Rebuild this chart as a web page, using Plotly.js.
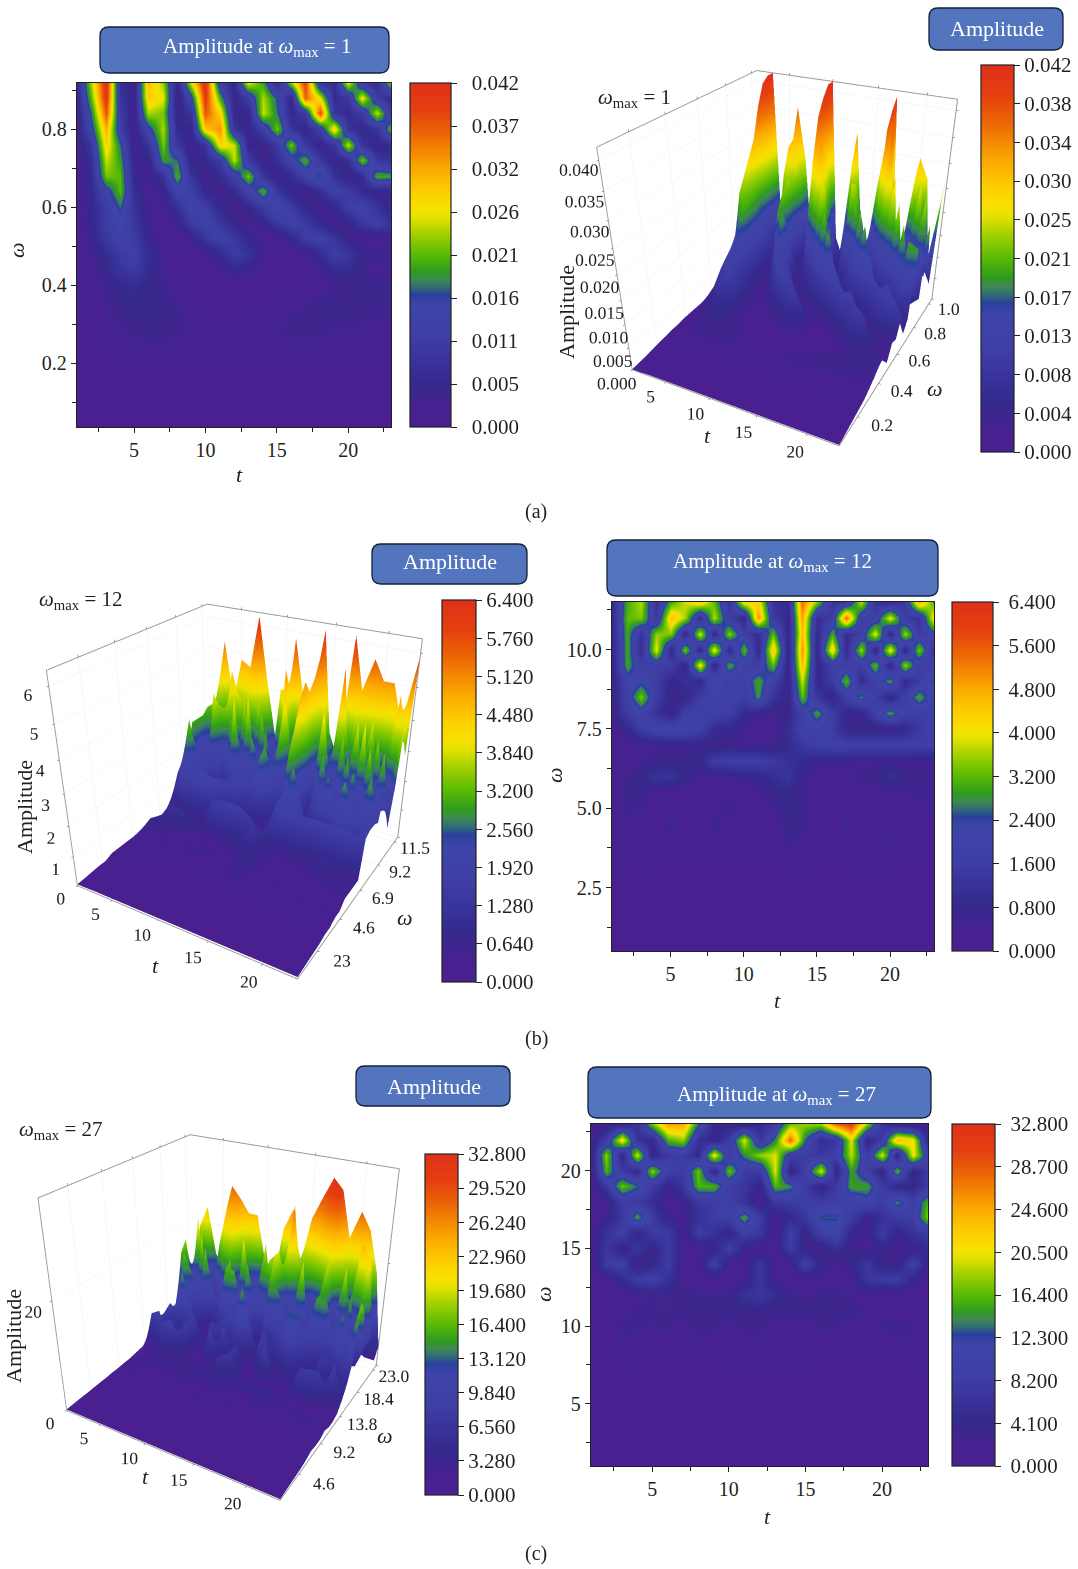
<!DOCTYPE html>
<html><head><meta charset="utf-8">
<script src="https://cdn.plot.ly/plotly-3.0.1.min.js"></script>
<style>html,body{margin:0;padding:0;background:#fff}</style></head>
<body><div id="chart" style="width:1078px;height:1569px"></div>
<script>
const tValues=[1,2,3,4,5,6,7,8,9,10,11,12,13,14,15,16,17,18,19,20,21,22,23];
const omegaA=[.04,.08,.12,.16,.2,.24,.28,.32,.36,.4,.44,.48,.52,.56,.6,.64,.68,.72,.76,.8,.84,.88,.92];
const omegaB=[.5,1,1.5,2,2.5,3,3.5,4,4.5,5,5.5,6,6.5,7,7.5,8,8.5,9,9.5,10,10.5,11,11.5];
const omegaC=[1,2,3,4,5,6,7,8,9,10,11,12,13,14,15,16,17,18,19,20,21,22,23];
// amplitude in thousandths, lowest omega first
const milliA=[
[.1,.1,.2,.2,.2,.2,.2,.2,.2,.2,.2,.2,.2,.2,.2,.2,.2,.2,.2,.2,.2,.2,.2],
[.2,.3,.4,.4,.4,.4,.4,.4,.4,.5,.5,.4,.4,.4,.4,.4,.5,.5,.4,.4,.4,.4,.4],
[.3,.5,.6,.7,.7,.7,.7,.7,.7,.8,.8,.8,.7,.7,.7,.8,.8,.8,.7,.7,.7,.7,.7],
[.5,.8,1,1.2,1.2,1.2,1.2,1.2,1.2,1.2,1.2,1.2,1.2,1.2,1.3,1.3,1.2,1.2,1.1,1.1,1.1,1.1,1],
[.7,1,1.5,1.8,2,2,2,2,2,1.9,1.8,1.8,1.8,1.8,1.9,1.9,1.9,1.8,1.6,1.5,1.4,1.3,1.3],
[.8,1.2,2,2.6,3,3,3,3,2.8,2.5,2.3,2.2,2.4,2.6,2.8,2.9,3,2.8,2.5,2.3,2,1.8,1.6],
[1,1.5,2.5,3.3,3.8,4,4,3.6,3,2.4,2,2,2.6,3.2,3.6,3.8,3.8,3.6,3.4,3.2,3,2.6,2.4],
[1,1.8,3,4,4.6,4.8,4.4,3.8,2.8,2,1.6,1.6,1.8,2.4,3,3.6,4,4.2,4.2,4,3.8,3.5,3.2],
[1.2,2,3.2,4.6,5.5,5,4.4,3.4,2.2,1.3,1,1,1.2,1.4,1.6,2.2,3,3.8,4.2,4.4,4.4,4.4,4.2],
[1.2,2.2,4,5.5,6.5,5,3.6,2.4,1.4,1,1,1,1,1.2,1.3,1.4,1.8,2.4,3.2,3.8,4.4,4.6,4.6],
[1.2,2.4,5,8.5,10,6,3,1.6,1.2,1.5,3,5.5,4,1.6,1,1,1.5,3.5,6,6.5,4,2.4,2],
[1.2,3,6.5,10,11.5,7,3,1.4,1,2,6,10.5,8,3,1.2,1,2.4,6,11,9,5,4,5],
[1.5,4.5,9,12.5,10,5,2,1.2,3.5,9,12,9,5,2,1.5,5,11,12,8,4,2.4,2,4.5],
[1.6,5,10.5,14,9,4,2,4,10,13,9,5,2.5,4.5,9,12,10,5,2.5,4,9,12,8],
[1.8,5,11,17,8,3,3,7,13,11,5,2.5,5,10,15,10,5,2.4,5,11,13,8,3],
[2,5.5,14,21,7,2.5,4,13,12,5,3,6,12,20,9,4,3,7,12,10,6,4,5],
[2,6,22,21,5,3,8,20,8,3,6,12,22,8,3,6,12,17,8,3,6,20,19],
[2.5,7,25,19,4,4,19,17,4,5,10,25,10,3,7,13,20,9,4,7,22,9,7],
[3,9,28,17,3,8,22,9,3,8,28,25,5,4,9,22,9,4,8,25,8,4,6],
[3,14,31,11,3,14,24,6,5,29,33,8,4,11,22,8,4,11,29,8,5,8,21],
[4,17,37,10,3,24,22,4,8,37,28,5,5,25,17,5,10,38,9,6,10,25,9],
[5,21,41,8,4,29,26,3,14,40,20,4,10,24,16,4,36,26,6,9,27,10,6],
[6,24,42,7,4,30,23,4,26,42,10,5,27,19,5,24,39,8,6,27,9,6,24]];
const ampB=[
[.05,.05,.06,.06,.06,.06,.06,.06,.06,.06,.06,.06,.06,.06,.06,.06,.06,.06,.06,.06,.06,.06,.06],
[.06,.08,.08,.08,.08,.08,.08,.08,.08,.08,.08,.08,.08,.08,.08,.08,.08,.08,.08,.08,.08,.08,.08],
[.08,.1,.1,.1,.1,.1,.1,.1,.1,.1,.1,.1,.1,.1,.1,.1,.1,.1,.1,.1,.1,.1,.1],
[.1,.12,.12,.12,.12,.12,.12,.12,.12,.12,.12,.12,.12,.12,.12,.12,.12,.12,.12,.12,.12,.12,.12],
[.1,.14,.16,.15,.14,.14,.15,.15,.14,.14,.15,.15,.16,.16,.15,.15,.14,.15,.15,.14,.15,.14,.14],
[.2,.2,.3,.2,.2,.2,.2,.2,.2,.2,.2,.2,.2,.3,.2,.2,.2,.3,.2,.4,.2,.2,.2],
[.2,.3,.3,.4,.2,.3,.2,.2,.2,.3,.2,.2,.3,.3,.2,.3,.2,.3,.2,.2,.3,.2,.2],
[.2,.5,.3,.2,.2,.2,.3,.2,.6,.2,.2,.4,.6,.5,.2,.2,.2,.2,.5,.6,.2,.5,.3],
[.2,.5,.3,.2,.7,.3,.2,.7,.3,.2,.3,.2,.7,.6,.3,.2,.6,.2,.2,.2,.2,.3,.3],
[.2,.6,.5,.3,.2,.4,.5,.4,.7,.3,.2,.5,.8,.7,.3,.5,.3,.3,.2,.4,.2,.4,.5],
[.2,.7,.7,.4,.3,.2,.2,.2,.3,.4,.5,.7,.8,.6,.4,.3,.2,.2,.3,.4,.5,.6,.5],
[.2,.6,.8,1.2,1.2,.8,.4,.4,.5,.6,.7,1,1.3,.6,.4,.4,.4,.6,.7,1.1,.7,.6,.5],
[.2,.3,.5,.6,.7,.7,.8,1.6,1.7,1.7,1.7,1.5,1.1,.9,.6,.6,.6,.5,.5,.5,.5,.5,.5],
[.2,.3,.4,.5,.6,.6,.6,.6,.6,.5,.5,.5,.9,1.4,1.7,1.8,1.8,1.8,1.8,1.8,1.8,1.7,1.7],
[.3,.8,1.6,2,2.1,2.1,1.8,.9,.7,.5,.3,.4,1,1.9,1.9,1.6,.8,.6,.6,.6,.8,1.5,1.8],
[.5,1.6,2,1.2,.6,1.8,1.8,1.8,1.7,.9,.6,.5,.7,1.8,2.9,1.6,.7,.6,1.8,2.9,1.8,1.6,1.8],
[.5,1.9,3.4,1.6,.6,.7,1.6,1.8,1.8,1.6,2.8,1.2,.6,3.2,1.3,.6,1.7,2.7,1.7,.6,1.8,3,1.7],
[.6,2,2.2,1.7,.7,1.2,.7,2.4,1.6,1.9,3,1.7,.6,3.8,.7,1.5,3.2,.9,1.8,2.9,.8,1.6,2.6],
[.6,3,1.7,1.7,1.7,.6,4.2,.6,3,1.8,1.7,3.2,.6,4.6,.7,1.7,1.8,1.6,3.2,.6,3.6,1.6,1.8],
[.7,3,1,4,.7,3.4,.6,4.2,.7,3.2,.8,4.5,.6,5,.7,4.4,.8,3.6,.6,4.2,.6,3.4,1],
[.8,3,1.2,3.5,3.4,.7,3.9,.7,3.5,1.7,1,3.2,.6,4.6,.8,3,1,1.7,4,.6,3.6,1.6,2.2],
[.9,3.2,3.4,1.4,4.6,3.6,.9,3.7,1.7,.8,5,1.6,.7,4.9,1,1.6,5.4,1.7,1.8,4,1.6,1.2,4.3],
[.8,3,3.7,1.2,3,3.8,4.4,3.2,1.2,4.2,4.3,1.2,.9,5.4,3.4,1.2,1.4,3.8,1.2,.9,1.4,4.8,3]];
const ampC=[
[.2,.2,.2,.2,.2,.2,.2,.2,.2,.2,.2,.2,.2,.2,.2,.2,.2,.2,.2,.2,.2,.2,.2],
[.25,.3,.3,.3,.3,.3,.3,.3,.3,.3,.3,.3,.3,.3,.3,.3,.3,.3,.3,.3,.3,.3,.3],
[.3,.35,.35,.4,.4,.4,.4,.4,.4,.4,.4,.4,.4,.4,.4,.4,.4,.4,.4,.4,.4,.4,.4],
[.3,.4,.45,.45,.45,.45,.5,.5,.5,.5,.5,.5,.5,.5,.5,.5,.5,.5,.5,.5,.45,.45,.45],
[.35,.5,.55,.55,.55,.55,.6,.6,.6,.6,.6,.6,.6,.65,.65,.6,.6,.6,.6,.55,.55,.55,.55],
[.4,.6,.7,.7,.7,.8,.8,.7,.7,.8,.8,.8,.8,.9,.8,.7,.7,.7,.7,.7,.7,.7,.8],
[.4,.8,1,1,1,.8,.8,1,1,1,1,1.5,1,1,1,1,.8,.8,.8,1,1,1,1.2],
[.5,1,2,3,1,1,1.5,1.5,1,2,2.5,1,1,2,2,1,1,1,2.5,1,1,1,1],
[.5,1.5,2.5,1.5,2,1.5,2,2.5,1.5,1,2,2.5,1.5,3,1.5,2,1.5,1,2,1.5,2.5,2,1],
[.6,2,3,3,2.5,3,2,3,3,2,3,3,2,1,1,3,3,1.5,2,3,3,3,1.5],
[.6,1,2,3,3,3,3,3.5,3.5,3.5,3.5,3.5,3.5,3.5,3.5,3.5,3.5,3.5,2.5,2,1.5,1,1],
[.8,1,1.2,2,3,3,3.5,3,3,3,6,7,5,3,2.5,3,3,2.5,1.5,1,1,1,1],
[1,1.5,5,8,9,6,2,1.5,1.5,1.5,2,7,2,2,2,2,2,2,7,8,8,4,1.5],
[1,8,9,2,4,8,2,2,9,2,2,7,1.5,2,9,4,1.5,4,7,3,3,9,3],
[1,7,3,7,3,8,2,2,3,9,3,2,2,8,3,2,6,3,2,4,2,3,5],
[1,6,9,3,8,8,2,8,6,3,9,7,1.5,9,3,9,10,4,2,8,3,6,8],
[1.5,3,7,15,8,3,2,6,8,9,15,8,1.5,4,7,13,13,8,3,6,8,9,18],
[1.5,2,8,8,5,1.5,3,7,8,9,6,1.5,7,8,9,8,9,9,11,8,14,9,16],
[1.5,7,17,13,8,3,7,16,16,8,7,3,16,14,8,3,8,15,15,8,4,4,8],
[2,16,8,4,18,9,8,17,3,17,8,8,20,3,9,20,3,15,9,3,16,3,8],
[3,18,3,20,3,8,8,4,21,8,14,18,20,9,8,7,9,19,8,20,3,21,9],
[2,8,22,6,4,16,18,6,3,8,20,7,14,28,13,5,7,20,3,8,24,21,3],
[2,3,4,6,17,25,25,13,4,3,3,4,8,17,18,18,28,31,18,6,3,2,2]];
// rows the surfaces show behind the edge of the contour maps
const topRowA=[8,18,42,5,6,36,25,4,14,42,9,4,33,12,4,18,41,6,6,30,26,8,30];
const topRowB=[1.2,3.4,5.3,3.4,4.8,4.6,6.3,4.2,2.4,1.8,5.8,4,3.4,6.2,3,2.2,6.2,4.6,5.6,5,5,3.8,5.9];
const topRowC=[4,19,23,14,11,28,26,23.5,23.5,15,11,22,26,16,25,29,32.8,31,23,28,25,18,4];
const zA=milliA.map(r=>r.map(v=>v/1000));
const cbHeatA=[0,.00525,.0105,.01575,.021,.02625,.0315,.03675,.042];
const cbHeatAText=['0.000','0.005','0.011','0.016','0.021','0.026','0.032','0.037','0.042'];
const cbSurfA=[0,.0042,.0084,.0126,.0168,.021,.0252,.0294,.0336,.0378,.042];
const cbSurfAText=['0.000','0.004','0.008','0.013','0.017','0.021','0.025','0.030','0.034','0.038','0.042'];
const cbSurfB=[0,.64,1.28,1.92,2.56,3.2,3.84,4.48,5.12,5.76,6.4];
const cbSurfBText=cbSurfB.map(v=>v.toFixed(3));
const cbHeatB=[0,.8,1.6,2.4,3.2,4,4.8,5.6,6.4];
const cbHeatBText=cbHeatB.map(v=>v.toFixed(3));
const cbSurfC=[0,3.28,6.56,9.84,13.12,16.4,19.68,22.96,26.24,29.52,32.8];
const cbSurfCText=cbSurfC.map(v=>v.toFixed(3));
const cbHeatC=[0,4.1,8.2,12.3,16.4,20.5,24.6,28.7,32.8];
const cbHeatCText=cbHeatC.map(v=>v.toFixed(3));
const tTicks=[5,10,15,20];
const palette=[[0,'#4a2090'],[.06,'#472190'],[.13,'#35298c'],[.2,'#39349c'],[.26,'#3e3ea4'],[.35,'#3f44a9'],[.372,'#3443a3'],[.385,'#2a3f9b'],[.405,'#2f6a78'],[.43,'#3f8a50'],[.45,'#2e9a20'],[.5,'#58ba05'],[.56,'#a0d000'],[.61,'#e6e200'],[.635,'#f6e000'],[.68,'#fdd000'],[.75,'#fbaa00'],[.85,'#ec6705'],[.92,'#e4400f'],[1,'#e0301a']];

const W=1078,H=1569,FONT='"Liberation Serif", serif',INK='#231f20';
const px=x=>x/W, py=y=>1-y/H;
const traces=[],layout={width:W,height:H,margin:{l:0,r:0,t:0,b:0},paper_bgcolor:'#fff',plot_bgcolor:'#fff',autosize:false,font:{family:FONT,color:INK,size:18},showlegend:false,shapes:[],annotations:[]};

function colorbar(x0,x1,y0,y1,vals,text,gap){
  return {x:px(x0),xanchor:'left',xpad:0,ypad:0,y:py(y1),yanchor:'bottom',len:(y1-y0)/H,lenmode:'fraction',thickness:x1-x0,thicknessmode:'pixels',
    tickmode:'array',tickvals:vals,ticktext:text.map(s=>gap+s),ticks:'outside',ticklen:6,tickwidth:1,tickcolor:'#222',outlinecolor:'#222',outlinewidth:1.2,tickfont:{family:FONT,size:21,color:INK}};
}
function box(x0,y0,x1,y1){
  const r=9,X=v=>px(v).toFixed(5),Y=v=>py(v).toFixed(5);
  layout.shapes.push({type:'path',xref:'paper',yref:'paper',fillcolor:'#5375bd',line:{color:'#14203a',width:1.3},
    path:`M ${X(x0+r)} ${Y(y0)} L ${X(x1-r)} ${Y(y0)} Q ${X(x1)} ${Y(y0)} ${X(x1)} ${Y(y0+r)} L ${X(x1)} ${Y(y1-r)} Q ${X(x1)} ${Y(y1)} ${X(x1-r)} ${Y(y1)} L ${X(x0+r)} ${Y(y1)} Q ${X(x0)} ${Y(y1)} ${X(x0)} ${Y(y1-r)} L ${X(x0)} ${Y(y0+r)} Q ${X(x0)} ${Y(y0)} ${X(x0+r)} ${Y(y0)} Z`});
}
function note(x,y,text,size,color,angle){
  layout.annotations.push({xref:'paper',yref:'paper',x:px(x),y:py(y),text,showarrow:false,xanchor:'center',yanchor:'middle',font:{family:FONT,size:size||20,color:color||INK},textangle:angle||0});
}
function heat(id,z,om,frame,cb,vals,text,gap,yDtick,yMinor,yFmt,yRange,xTitle,yTitle){
  const [x0,x1,y0,y1]=frame,s=id===1?'':id;
  traces.push({type:'heatmap',x:tValues,y:om,z,zsmooth:'best',colorscale:palette,zmin:0,zmax:vals[vals.length-1],xaxis:'x'+s,yaxis:'y'+s,
    colorbar:colorbar(cb[0],cb[1],y0,y1,vals,text,gap),hoverinfo:'skip'});
  const base={showline:true,mirror:true,linecolor:'#222',linewidth:1.4,ticks:'outside',ticklen:5,tickwidth:1,tickcolor:'#222',showgrid:false,zeroline:false,tickfont:{family:FONT,size:20,color:INK},layer:'above traces'};
  layout['xaxis'+s]=Object.assign({},base,{domain:[px(x0),px(x1)],range:[1,23],anchor:'y'+s,tickmode:'array',tickvals:tTicks,minor:{tickmode:'array',tickvals:[2.5,7.5,12.5,17.5,22.5],ticks:'outside',ticklen:4,tickcolor:'#222',showgrid:false}});
  layout['yaxis'+s]=Object.assign({},base,{domain:[py(y1),py(y0)],range:yRange,anchor:'x'+s,dtick:yDtick,tick0:0,tickformat:yFmt,minor:{dtick:yMinor,tick0:0,ticks:'outside',ticklen:4,tickcolor:'#222',showgrid:false}});
  note(xTitle[0],xTitle[1],'<i>t</i>',22);
  note(yTitle[0],yTitle[1],'<i>ω</i>',22,INK,-90);
}
function surf(sid,z,om,dom,cb,vals,text,zMax,zTicks,zFmt,omTicks,omText,center,aspect,eye){
  traces.push({type:'surface',x:tValues,y:om,z,scene:sid,colorscale:palette,cmin:0,cmax:vals[vals.length-1],
    lighting:{ambient:1,diffuse:0,specular:0,roughness:1,fresnel:0},hoverinfo:'skip',
    colorbar:colorbar(cb[0],cb[1],cb[2],cb[3],vals,text,'')});
  const ax={showbackground:false,showspikes:false,showgrid:true,gridcolor:'#f0f0f0',gridwidth:1,zeroline:false,showline:true,linecolor:'#9a9a9a',linewidth:2,mirror:'all',
    ticks:'outside',ticklen:2,tickcolor:'#444',tickangle:0,tickfont:{family:FONT,size:14.5,color:INK},title:{text:''}};
  layout[sid]={domain:{x:[px(dom[0]),px(dom[1])],y:[py(dom[3]),py(dom[2])]},bgcolor:'rgba(0,0,0,0)',aspectmode:'manual',aspectratio:aspect,camera:{eye,center,up:{x:0,y:0,z:1}},
    xaxis:Object.assign({},ax,{range:[1,23],tickmode:'array',tickvals:tTicks}),
    yaxis:Object.assign({},ax,{range:[om[0],om[om.length-1]],tickmode:'array',tickvals:omTicks,ticktext:omText}),
    zaxis:Object.assign({},ax,{range:[0,zMax],tickmode:'array',tickvals:zTicks,tickformat:zFmt})};
}
const eyeMain={x:1.29,y:-2.18,z:1.35};

// row (a)
heat(1,zA,omegaA,[77,391,83,427],[410,451],cbHeatA,cbHeatAText,'\u2002',.2,.1,'.1f',[.036,.918],[239,475],[16,250]);
box(100,27,389,73); note(257,47,'Amplitude at <i>ω</i><sub>max</sub> = 1',21,'#fff');
surf('scene',zA.concat([topRowA.map(v=>v/1000)]),omegaA.concat([.96]),[508,1078,0,570],[981,1014,65,452],cbSurfA,cbSurfAText,.042,[0,.005,.01,.015,.02,.025,.03,.035,.04],'.3f',[.184,.368,.552,.736,.92],['0.2','0.4','0.6','0.8','1.0'],{x:0,y:0,z:-.24},{x:.95,y:1.1,z:.98},{x:1.16,y:-2.24,z:1.35});
box(929,8,1063,50); note(997,29,'Amplitude',22,'#fff');
note(634,98,'<i>ω</i><sub>max</sub> = 1',21);
note(566,312,'Amplitude',22,INK,-90); note(707,436,'<i>t</i>',22); note(935,388,'<i>ω</i>',22);
note(536,511,'(a)',20);
// row (b)
surf('scene2',ampB.concat([topRowB]),omegaB.concat([12]),[14,478,480,1050],[442,476,600,982],cbSurfB,cbSurfBText,6.4,[0,1,2,3,4,5,6],'d',[2.3,4.6,6.9,9.2,11.5],['23','4.6','6.9','9.2','11.5'],{x:0,y:0,z:0},{x:1.05,y:1.05,z:.97},eyeMain);
box(372,544,527,584); note(450,562,'Amplitude',22,'#fff');
note(80,600,'<i>ω</i><sub>max</sub> = 12',21);
note(24,807,'Amplitude',22,INK,-90); note(155,965,'<i>t</i>',22); note(405,917,'<i>ω</i>',22);
heat(2,ampB,omegaB,[612,934,602,951],[952,993],cbHeatB,cbHeatBText,'\u2005',2.5,1.25,'.1f',[.5,11.5],[777,1000],[554,775]);
box(607,540,938,596); note(772,562,'Amplitude at <i>ω</i><sub>max</sub> = 12',21,'#fff');
note(536,1038,'(b)',20);
// row (c)
surf('scene3',ampC.concat([topRowC]),omegaC.concat([24]),[8,450,999,1569],[425,458,1154,1495],cbSurfC,cbSurfCText,36,[0,20],'d',[4.6,9.2,13.8,18.4,23],['4.6','9.2','13.8','18.4','23.0'],{x:0,y:0,z:.04},{x:1.02,y:1,z:.96},eyeMain);
box(356,1066,510,1106); note(434,1086,'Amplitude',22,'#fff');
note(60,1130,'<i>ω</i><sub>max</sub> = 27',21);
note(13,1336,'Amplitude',22,INK,-90); note(145,1476,'<i>t</i>',22); note(385,1435,'<i>ω</i>',22);
heat(3,ampC,omegaC,[591,928,1124,1466],[952,995],cbHeatC,cbHeatCText,'\u2005',5,2.5,'d',[1,23],[767,1516],[543,1294]);
box(588,1067,931,1118); note(776,1095,'Amplitude at <i>ω</i><sub>max</sub> = 27',21,'#fff');
note(536,1553,'(c)',20);

Plotly.newPlot('chart',traces,layout,{displayModeBar:false});
</script></body></html>
